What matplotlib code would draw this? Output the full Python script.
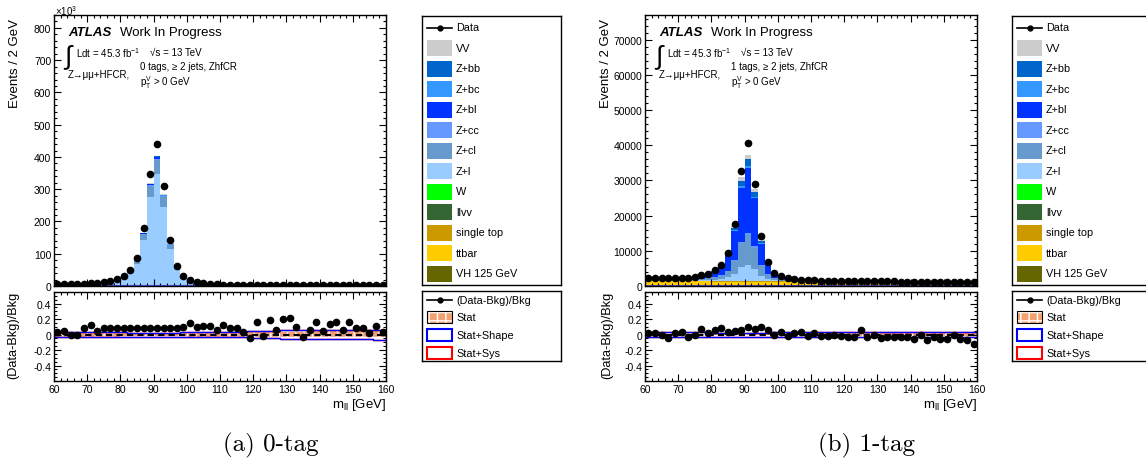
import numpy as np
import matplotlib
matplotlib.use('Agg')
import matplotlib.pyplot as plt
from matplotlib.patches import Rectangle
from matplotlib.ticker import MultipleLocator

plt.rcParams['font.family'] = ['Liberation Sans', 'DejaVu Sans']
plt.rcParams['mathtext.default'] = 'regular'
plt.rcParams['axes.unicode_minus'] = False

# bins: m_ll from 60 to 160 GeV, 2 GeV wide
edges = np.arange(60, 162, 2)
centers = edges[:-1] + 1

# ---------------- 0-tag (units of 10^3 events) ----------------
data_0tag = [5.0, 5.3, 5.6, 6.0, 6.8, 7.8, 8.8, 11.0, 14.5, 21.5,
             32, 50, 88, 180, 348, 441, 310, 143, 62, 31,
             18, 11, 7.8, 6.2, 5.2, 4.6, 4.2, 3.9, 3.6, 3.4,
             3.3, 3.1, 3.0, 2.9, 2.8, 2.7, 2.6, 2.5, 2.45, 2.4,
             2.3, 2.25, 2.2, 2.1, 2.05, 2.0, 1.95, 1.9, 1.85, 1.8]
vh_0tag = [0.0] * 50
ttbar_0tag = [0.26, 0.26, 0.26, 0.26, 0.26, 0.26, 0.26, 0.26, 0.25, 0.25,
              0.25, 0.25, 0.25, 0.25, 0.25, 0.25, 0.25, 0.25, 0.25, 0.25,
              0.24, 0.24, 0.24, 0.24, 0.24, 0.24, 0.24, 0.24, 0.24, 0.24,
              0.23, 0.23, 0.23, 0.23, 0.23, 0.23, 0.23, 0.23, 0.23, 0.23,
              0.22, 0.22, 0.22, 0.22, 0.22, 0.22, 0.22, 0.22, 0.22, 0.22]
stop_0tag = [0.02] * 50
llvv_0tag = [0.003] * 50
w_0tag = [0.005] * 50
zl_0tag = [4.00, 4.25, 4.60, 4.94, 5.38, 5.98, 6.93, 8.57, 11.25, 16.85,
           25.31, 39.72, 69.41, 142.1, 275.0, 348.4, 244.8, 113.7, 48.9, 23.9,
           13.2, 8.40, 5.89, 4.69, 3.91, 3.39, 3.05, 2.79, 2.61, 2.44,
           2.31, 2.18, 2.05, 1.97, 1.88, 1.80, 1.71, 1.67, 1.58, 1.54,
           1.49, 1.45, 1.41, 1.36, 1.32, 1.28, 1.23, 1.21, 1.17, 1.15]
zcl_0tag = [0.49, 0.52, 0.56, 0.61, 0.66, 0.73, 0.85, 1.05, 1.38, 2.07,
            3.11, 4.88, 8.53, 17.46, 33.78, 42.79, 30.07, 13.96, 6.01, 2.94,
            1.62, 1.03, 0.72, 0.58, 0.48, 0.42, 0.37, 0.34, 0.32, 0.30,
            0.28, 0.27, 0.25, 0.24, 0.23, 0.22, 0.21, 0.20, 0.19, 0.19,
            0.18, 0.18, 0.17, 0.17, 0.16, 0.16, 0.15, 0.15, 0.14, 0.14]
zcc_0tag = [0.04, 0.04, 0.04, 0.05, 0.05, 0.06, 0.06, 0.08, 0.10, 0.16,
            0.24, 0.37, 0.64, 1.32, 2.55, 3.23, 2.27, 1.05, 0.45, 0.22,
            0.12, 0.08, 0.06, 0.04, 0.04, 0.03, 0.03, 0.03, 0.02, 0.02,
            0.02, 0.02, 0.02, 0.02, 0.02, 0.02, 0.02, 0.02, 0.02, 0.01,
            0.01, 0.01, 0.01, 0.01, 0.01, 0.01, 0.01, 0.01, 0.01, 0.01]
zbl_0tag = [0.05, 0.05, 0.05, 0.06, 0.06, 0.07, 0.08, 0.10, 0.13, 0.20,
            0.29, 0.46, 0.80, 1.65, 3.19, 4.04, 2.84, 1.32, 0.57, 0.28,
            0.15, 0.10, 0.07, 0.05, 0.05, 0.04, 0.04, 0.03, 0.03, 0.03,
            0.03, 0.03, 0.02, 0.02, 0.02, 0.02, 0.02, 0.02, 0.02, 0.02,
            0.02, 0.02, 0.02, 0.02, 0.02, 0.02, 0.01, 0.01, 0.01, 0.01]
zbc_0tag = [0.01, 0.02, 0.02, 0.02, 0.02, 0.02, 0.02, 0.03, 0.04, 0.06,
            0.09, 0.14, 0.24, 0.49, 0.96, 1.21, 0.85, 0.40, 0.17, 0.08,
            0.05, 0.03, 0.02, 0.02, 0.01, 0.01, 0.01, 0.01, 0.01, 0.01,
            0.01, 0.01, 0.01, 0.01, 0.01, 0.01, 0.01, 0.01, 0.01, 0.01,
            0.01, 0.01, 0.01, 0.01, 0.01, 0.01, 0.01, 0.01, 0.01, 0.01]
zbb_0tag = [0.02, 0.02, 0.02, 0.02, 0.03, 0.03, 0.03, 0.04, 0.05, 0.08,
            0.12, 0.18, 0.32, 0.66, 1.27, 1.61, 1.13, 0.53, 0.23, 0.11,
            0.06, 0.04, 0.03, 0.02, 0.02, 0.02, 0.01, 0.01, 0.01, 0.01,
            0.01, 0.01, 0.01, 0.01, 0.01, 0.01, 0.01, 0.01, 0.01, 0.01,
            0.01, 0.01, 0.01, 0.01, 0.01, 0.01, 0.01, 0.01, 0.01, 0.01]
vv_0tag = [0.03, 0.03, 0.03, 0.03, 0.04, 0.04, 0.05, 0.06, 0.08, 0.12,
           0.18, 0.28, 0.48, 0.99, 1.91, 2.42, 1.70, 0.79, 0.34, 0.17,
           0.09, 0.06, 0.04, 0.03, 0.03, 0.02, 0.02, 0.02, 0.02, 0.02,
           0.02, 0.02, 0.01, 0.01, 0.01, 0.01, 0.01, 0.01, 0.01, 0.01,
           0.01, 0.01, 0.01, 0.01, 0.01, 0.01, 0.01, 0.01, 0.01, 0.01]
ratio_0tag = [0.03, 0.04, 0.0, -0.01, 0.08, 0.12, 0.04, 0.08, 0.09, 0.085,
              0.08, 0.08, 0.09, 0.09, 0.09, 0.09, 0.09, 0.085, 0.085, 0.10,
              0.15, 0.10, 0.115, 0.105, 0.06, 0.12, 0.085, 0.09, 0.03, -0.05,
              0.16, -0.015, 0.19, 0.06, 0.195, 0.21, 0.10, -0.03, 0.065, 0.165,
              0.045, 0.14, 0.165, 0.06, 0.165, 0.09, 0.085, 0.02, 0.115, 0.03]
stat_0tag = [0.025, 0.025, 0.025, 0.025, 0.025, 0.025, 0.025, 0.025, 0.025, 0.025,
             0.02, 0.02, 0.02, 0.02, 0.02, 0.02, 0.02, 0.02, 0.02, 0.02,
             0.025, 0.025, 0.025, 0.025, 0.025, 0.025, 0.025, 0.025, 0.025, 0.03,
             0.035, 0.035, 0.035, 0.035, 0.035, 0.035, 0.035, 0.035, 0.04, 0.04,
             0.045, 0.045, 0.045, 0.045, 0.045, 0.045, 0.045, 0.045, 0.045, 0.045]
shape_0tag = [0.032, 0.032, 0.032, 0.032, 0.032, 0.032, 0.032, 0.032, 0.032, 0.032,
              0.032, 0.025, 0.025, 0.025, 0.025, 0.025, 0.025, 0.025, 0.025, 0.03,
              0.03, 0.03, 0.03, 0.03, 0.03, 0.03, 0.03, 0.03, 0.03, 0.045,
              0.045, 0.045, 0.045, 0.045, 0.06, 0.06, 0.06, 0.06, 0.06, 0.06,
              0.06, 0.06, 0.06, 0.06, 0.06, 0.06, 0.06, 0.06, 0.065, 0.065]
sys_0tag = shape_0tag

# ---------------- 1-tag (events) ----------------
data_1tag = [2200, 2200, 2250, 2200, 2350, 2400, 2350, 2550, 3000, 3400,
             4500, 6000, 9400, 17700, 32800, 40600, 29100, 14300, 6900, 3800,
             2900, 2200, 1900, 1800, 1650, 1650, 1550, 1500, 1500, 1450,
             1400, 1400, 1450, 1350, 1350, 1300, 1300, 1280, 1270, 1250,
             1200, 1250, 1150, 1200, 1150, 1120, 1180, 1100, 1080, 1000]
vh_1tag = [3] * 50
ttbar_1tag = [1320, 1320, 1310, 1310, 1300, 1300, 1290, 1290, 1280, 1280,
              1270, 1270, 1260, 1260, 1250, 1250, 1240, 1240, 1230, 1220,
              1210, 1200, 1190, 1180, 1170, 1160, 1150, 1140, 1130, 1120,
              1110, 1100, 1090, 1080, 1070, 1060, 1050, 1040, 1030, 1020,
              1010, 1000, 990, 980, 970, 960, 950, 940, 930, 920]
stop_1tag = [80] * 50
llvv_1tag = [10] * 50
w_1tag = [10, 10, 10, 10, 10, 10, 10, 15, 20, 30,
          40, 60, 90, 150, 150, 100, 60, 40, 20, 15,
          10, 10, 10, 10, 10, 10, 10, 10, 10, 10,
          10, 10, 10, 10, 10, 10, 10, 10, 10, 10,
          10, 10, 10, 10, 10, 10, 10, 10, 10, 10]
zl_1tag = [97, 99, 104, 110, 118, 122, 129, 145, 184, 248,
           365, 531, 993, 2000, 3770, 4590, 3350, 1520, 677, 320,
           193, 124, 81, 63, 54, 46, 44, 38, 37, 35,
           32, 31, 27, 27, 26, 24, 24, 23, 23, 23,
           23, 23, 22, 22, 22, 20, 20, 19, 19, 18]
zcl_1tag = [179, 181, 190, 202, 216, 223, 237, 266, 338, 456,
            670, 975, 1820, 3680, 6930, 8430, 6150, 2790, 1240, 588,
            355, 228, 148, 115, 99, 85, 80, 71, 68, 63,
            59, 56, 49, 49, 47, 45, 45, 42, 42, 42,
            42, 42, 40, 40, 40, 38, 38, 35, 35, 33]
zcc_1tag = [11, 12, 12, 13, 14, 14, 15, 17, 22, 29,
            43, 62, 116, 235, 442, 538, 393, 178, 79, 38,
            23, 15, 9, 7, 6, 5, 5, 5, 4, 4,
            4, 4, 3, 3, 3, 3, 3, 3, 3, 3,
            3, 3, 3, 3, 3, 2, 2, 2, 2, 2]
zbl_1tag = [395, 400, 421, 447, 478, 494, 525, 588, 749, 1010,
            1480, 2160, 4040, 8140, 15320, 18650, 13610, 6180, 2750, 1300,
            785, 504, 328, 255, 218, 187, 177, 156, 151, 140,
            130, 125, 109, 109, 104, 99, 99, 94, 94, 94,
            94, 94, 88, 88, 88, 83, 83, 78, 78, 73]
zbc_1tag = [11, 12, 12, 13, 14, 14, 15, 17, 22, 29,
            43, 62, 116, 235, 442, 538, 393, 178, 79, 38,
            23, 15, 9, 7, 6, 5, 5, 5, 4, 4,
            4, 4, 3, 3, 3, 3, 3, 3, 3, 3,
            3, 3, 3, 3, 3, 2, 2, 2, 2, 2]
zbb_1tag = [38, 39, 41, 43, 46, 48, 51, 57, 72, 97,
            143, 208, 388, 783, 1470, 1790, 1310, 594, 265, 125,
            76, 49, 32, 25, 21, 18, 17, 15, 15, 14,
            13, 12, 11, 11, 10, 10, 10, 9, 9, 9,
            9, 9, 9, 9, 9, 8, 8, 8, 8, 7]
vv_1tag = [28, 28, 30, 32, 34, 35, 37, 42, 53, 72,
           105, 154, 287, 579, 1090, 1330, 969, 440, 196, 93,
           56, 36, 23, 18, 16, 13, 13, 11, 11, 10,
           9, 9, 8, 8, 7, 7, 7, 7, 7, 7,
           7, 7, 6, 6, 6, 6, 6, 6, 6, 5]
ratio_1tag = [0.02, 0.015, 0.0, -0.05, 0.02, 0.03, -0.03, 0.0, 0.07, 0.02,
              0.065, 0.085, 0.035, 0.04, 0.065, 0.10, 0.07, 0.10, 0.055, 0.0,
              0.03, -0.02, 0.015, 0.035, -0.02, 0.02, -0.02, -0.02, -0.01, -0.02,
              -0.03, -0.03, 0.06, -0.03, -0.01, -0.045, -0.03, -0.03, -0.025, -0.03,
              -0.06, -0.01, -0.075, -0.03, -0.055, -0.06, 0.0, -0.055, -0.065, -0.12]
stat_1tag = [0.012, 0.012, 0.012, 0.012, 0.012, 0.012, 0.012, 0.012, 0.012, 0.012,
             0.01, 0.01, 0.01, 0.01, 0.01, 0.01, 0.01, 0.01, 0.01, 0.012,
             0.012, 0.012, 0.012, 0.012, 0.012, 0.015, 0.015, 0.015, 0.015, 0.015,
             0.018, 0.018, 0.018, 0.018, 0.018, 0.018, 0.018, 0.018, 0.02, 0.02,
             0.02, 0.02, 0.02, 0.02, 0.02, 0.02, 0.02, 0.02, 0.02, 0.02]
shape_1tag = [0.028, 0.028, 0.028, 0.028, 0.028, 0.028, 0.028, 0.028, 0.028, 0.028,
              0.025, 0.025, 0.025, 0.025, 0.025, 0.025, 0.025, 0.025, 0.025, 0.028,
              0.028, 0.028, 0.028, 0.028, 0.028, 0.03, 0.03, 0.03, 0.03, 0.03,
              0.03, 0.03, 0.03, 0.03, 0.03, 0.03, 0.03, 0.03, 0.03, 0.03,
              0.03, 0.03, 0.032, 0.032, 0.032, 0.032, 0.032, 0.032, 0.032, 0.032]
sys_1tag = shape_1tag

# legend / stacking names and colours (top of legend first)
sample_names = ['VV', 'Z+bb', 'Z+bc', 'Z+bl', 'Z+cc', 'Z+cl', 'Z+l', 'W', 'llvv',
                'single top', 'ttbar', 'VH 125 GeV']
sample_colors = ['#cccccc', '#0066cc', '#3399ff', '#0033ff', '#6699ff', '#6699cc',
                 '#99ccff', '#00ff00', '#336633', '#cc9900', '#ffcc00', '#666600']

stack_0tag = [vv_0tag, zbb_0tag, zbc_0tag, zbl_0tag, zcc_0tag, zcl_0tag, zl_0tag,
              w_0tag, llvv_0tag, stop_0tag, ttbar_0tag, vh_0tag]
stack_1tag = [vv_1tag, zbb_1tag, zbc_1tag, zbl_1tag, zcc_1tag, zcl_1tag, zl_1tag,
              w_1tag, llvv_1tag, stop_1tag, ttbar_1tag, vh_1tag]

W, H = 1146, 464
fig = plt.figure(figsize=(W / 100, H / 100), dpi=100)


def px_rect(x0, y0, x1, y1):
    return [x0 / W, 1 - y1 / H, (x1 - x0) / W, (y1 - y0) / H]


def ftext(x, y, s, **kw):
    kw.setdefault('va', 'center')
    kw.setdefault('ha', 'left')
    fig.text(x / W, 1 - y / H, s, **kw)


def style_axes(ax, ymajor, yminor):
    ax.xaxis.set_major_locator(MultipleLocator(10))
    ax.xaxis.set_minor_locator(MultipleLocator(2))
    ax.yaxis.set_major_locator(MultipleLocator(ymajor))
    ax.yaxis.set_minor_locator(MultipleLocator(yminor))
    ax.tick_params(which='both', direction='in', top=True, right=True,
                   labelsize=7.5, pad=2, width=0.8)
    ax.tick_params(which='major', length=5)
    ax.tick_params(which='minor', length=2.5)
    for sp in ax.spines.values():
        sp.set_linewidth(1)


def draw_panel(x_off, stack, data, ratio, stat, shape, sys, ymax, ymajor, yminor, tags):
    ax = fig.add_axes(px_rect(54 + x_off, 16, 386 + x_off, 287))
    rax = fig.add_axes(px_rect(54 + x_off, 293, 386 + x_off, 382))

    # stacked backgrounds, bottom sample first
    bottom = np.zeros(len(centers))
    for vals, col in zip(stack[::-1], sample_colors[::-1]):
        vals = np.asarray(vals, dtype=float)
        ax.bar(centers, vals, width=2, bottom=bottom, color=col, linewidth=0)
        bottom = bottom + vals
    ax.axhline(0, color='#3333cc', lw=1.2)
    ax.plot(centers, data, 'o', color='k', ms=4.5)
    ax.set_xlim(60, 160)
    ax.set_ylim(0, ymax)
    style_axes(ax, ymajor, yminor)
    ax.tick_params(labelbottom=False)

    # ratio panel
    stat = np.asarray(stat)
    shape = np.asarray(shape)
    sys = np.asarray(sys)
    rax.stairs(stat, edges, baseline=-stat, fill=True, facecolor='#f4a070',
               edgecolor='white', hatch='++', linewidth=0)
    rax.stairs(sys, edges, baseline=-sys, fill=False, color='#ff0000', lw=1)
    rax.stairs(shape, edges, baseline=-shape, fill=False, color='#0000ff', lw=1)
    rax.axhline(0, color='k', lw=1.5, ls=(0, (3, 2)))
    rax.plot(centers, ratio, 'o', color='k', ms=4.5)
    rax.set_xlim(60, 160)
    rax.set_ylim(-0.6, 0.55)
    style_axes(rax, 0.2, 0.05)
    rax.set_yticks([-0.4, -0.2, 0, 0.2, 0.4])
    rax.set_yticklabels(['-0.4', '-0.2', '0', '0.2', '0.4'])

    # axis labels
    ftext(15 + x_off, 19, 'Events / 2 GeV', rotation=90, ha='center', va='top', fontsize=9.5)
    ftext(13 + x_off if x_off == 0 else 607, 292, '(Data-Bkg)/Bkg', rotation=90,
          ha='center', va='top', fontsize=9.2)
    ftext(386 + x_off, 405, 'm$_{ll}$ [GeV]', ha='right', fontsize=9.5)

    # ATLAS labels
    tx = 68 + x_off
    ftext(tx, 33, 'ATLAS', fontsize=9.5, fontweight='bold', fontstyle='italic')
    ftext(tx + 52, 33, 'Work In Progress', fontsize=9.5)
    ftext(tx - 4, 57, '\u222b', fontsize=19)
    ftext(tx + 8, 53, 'Ldt = 45.3 fb$^{-1}$', fontsize=7)
    ftext(tx + 82, 53, '\u221as = 13 TeV', fontsize=7)
    ftext(tx, 75, 'Z\u2192\u03bc\u03bc+HFCR,', fontsize=7)
    ftext(tx + 72, 67, tags + ' tags, \u2265 2 jets, ZhfCR', fontsize=7)
    ftext(tx + 72, 83, 'p$_T^V$ > 0 GeV', fontsize=7)
    return ax, rax


def draw_legend(x0):
    # main legend
    lax = fig.add_axes(px_rect(x0, 17, x0 + 139, 286))
    lax.set_xlim(0, 139)
    lax.set_ylim(269, 0)
    lax.set_xticks([])
    lax.set_yticks([])
    for sp in lax.spines.values():
        sp.set_linewidth(1)
    row = 20.5
    y = 11.5
    lax.plot([5, 30], [y, y], color='k', lw=1.2)
    lax.plot([17.5], [y], 'o', color='k', ms=3.5)
    lax.text(34, y, 'Data', va='center', fontsize=7.8)
    for i, (name, col) in enumerate(zip(sample_names, sample_colors)):
        yy = y + row * (i + 1)
        lax.add_patch(Rectangle((5, yy - 8), 25, 16, facecolor=col, edgecolor='none'))
        lax.text(34, yy, name, va='center', fontsize=7.8)

    # ratio legend
    rl = fig.add_axes(px_rect(x0, 292, x0 + 139, 362))
    rl.set_xlim(0, 139)
    rl.set_ylim(70, 0)
    rl.set_xticks([])
    rl.set_yticks([])
    for sp in rl.spines.values():
        sp.set_linewidth(1)
    ys = [8.7, 26.4, 44.1, 61.8]
    rl.plot([5, 30], [ys[0], ys[0]], color='k', lw=1.2)
    rl.plot([17.5], [ys[0]], 'o', color='k', ms=3.5)
    rl.text(34, ys[0], '(Data-Bkg)/Bkg', va='center', fontsize=7.8)
    rl.add_patch(Rectangle((5, ys[1] - 6), 25, 12, facecolor='#f4a070',
                           edgecolor='white', hatch='++', linewidth=0))
    rl.add_patch(Rectangle((5, ys[1] - 6), 25, 12, facecolor='none', edgecolor='k', lw=0.8))
    rl.text(34, ys[1], 'Stat', va='center', fontsize=7.8)
    rl.add_patch(Rectangle((5, ys[2] - 6), 25, 12, facecolor='white', edgecolor='#0000ff', lw=1.5))
    rl.text(34, ys[2], 'Stat+Shape', va='center', fontsize=7.8)
    rl.add_patch(Rectangle((5, ys[3] - 6), 25, 12, facecolor='white', edgecolor='#ff0000', lw=1.5))
    rl.text(34, ys[3], 'Stat+Sys', va='center', fontsize=7.8)


draw_panel(0, stack_0tag, data_0tag, ratio_0tag, stat_0tag, shape_0tag, sys_0tag,
           840, 100, 20, '0')
ftext(55, 11, '\u00d710$^3$', fontsize=7)
draw_legend(422)

draw_panel(591, stack_1tag, data_1tag, ratio_1tag, stat_1tag, shape_1tag, sys_1tag,
           77000, 10000, 2000, '1')
draw_legend(1012)

ftext(271, 445, '(a) 0-tag', ha='center', fontsize=18,
      family=['cmr10', 'DejaVu Serif'])
ftext(866, 445, '(b) 1-tag', ha='center', fontsize=18,
      family=['cmr10', 'DejaVu Serif'])

fig.savefig('out.png', dpi=100)
